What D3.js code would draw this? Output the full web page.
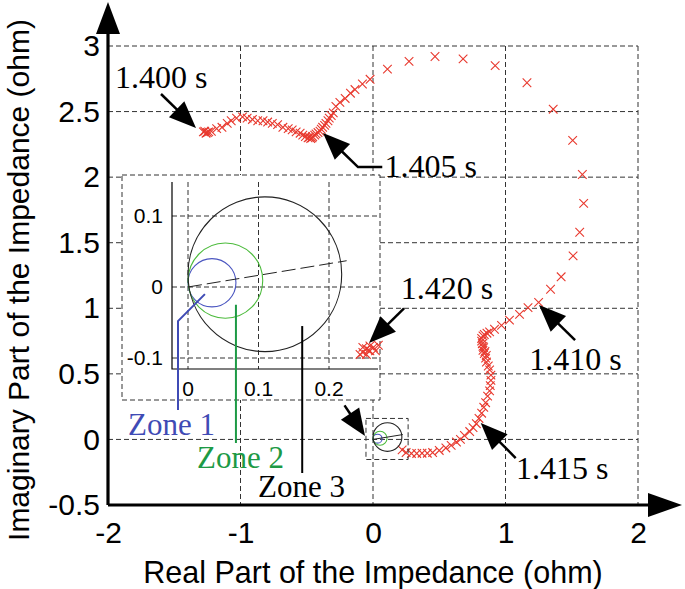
<!DOCTYPE html>
<html><head><meta charset="utf-8">
<script src="https://cdn.jsdelivr.net/npm/d3@7/dist/d3.min.js"></script>
<style>body{margin:0;background:#fff}</style>
</head><body>
<script>
// ---------- data ----------
const xTicks = [-2, -1, 0, 1, 2];
const yTicks = [-0.5, 0, 0.5, 1, 1.5, 2, 2.5, 3];
const insetXTicks = [0, 0.1, 0.2];
const insetYTicks = [-0.1, 0, 0.1];

// impedance trajectory (real, imaginary), ohm
const trajRe = [-1.28,-1.26,-1.27,-1.25,-1.24,-1.22,-1.18,-1.14,-1.10,-1.07,-1.03,-0.985,-0.95,-0.91,-0.87,-0.83,-0.795,-0.76,-0.72,-0.68,-0.64,-0.61,-0.58,-0.55,-0.53,-0.51,-0.49,-0.47,-0.46,-0.48,-0.455,-0.44,-0.43,-0.415,-0.40,-0.39,-0.38,-0.365,-0.355,-0.34,-0.33,-0.315,-0.30,-0.28,-0.25,-0.21,-0.17,-0.136,-0.08,-0.022,0.109,0.272,0.468,0.68,0.922,1.162,1.36,1.507,1.58,1.59,1.56,1.51,1.42,1.34,1.25,1.17,1.106,1.03,0.97,0.917,0.88,0.86,0.84,0.83,0.82,0.82,0.825,0.83,0.835,0.83,0.845,0.84,0.855,0.85,0.856,0.87,0.88,0.89,0.89,0.885,0.88,0.865,0.85,0.836,0.82,0.80,0.78,0.755,0.73,0.69,0.66,0.63,0.59,0.55,0.50,0.45,0.41,0.37,0.33,0.29,0.25,0.22];
const trajIm = [2.345,2.335,2.35,2.34,2.345,2.35,2.37,2.38,2.41,2.43,2.45,2.46,2.45,2.44,2.43,2.43,2.42,2.41,2.40,2.38,2.37,2.36,2.345,2.335,2.32,2.31,2.30,2.295,2.30,2.305,2.31,2.32,2.33,2.34,2.35,2.365,2.38,2.395,2.41,2.43,2.45,2.47,2.49,2.54,2.57,2.60,2.64,2.668,2.71,2.746,2.824,2.883,2.92,2.902,2.85,2.72,2.518,2.28,2.02,1.80,1.58,1.40,1.24,1.145,1.045,1.005,0.954,0.91,0.87,0.84,0.82,0.81,0.80,0.79,0.77,0.75,0.73,0.71,0.70,0.68,0.67,0.655,0.64,0.62,0.59,0.56,0.53,0.49,0.45,0.41,0.37,0.33,0.28,0.245,0.20,0.16,0.12,0.09,0.06,0.03,0.0,-0.02,-0.045,-0.065,-0.084,-0.10,-0.105,-0.105,-0.107,-0.107,-0.10,-0.08];

// final settled points (shown in the inset)
const finalRe = [0.270,0.263,0.258,0.253,0.248,0.244,0.253,0.258,0.248,0.266,0.256];
const finalIm = [-0.082,-0.085,-0.090,-0.087,-0.092,-0.095,-0.095,-0.083,-0.085,-0.090,-0.089];

// relay zones (mho circles)
const zoneNames = ["Zone 1", "Zone 2", "Zone 3"];
const zoneCRe = [0.034, 0.053, 0.109];
const zoneCIm = [0.006, 0.009, 0.018];
const zoneR = [0.034, 0.053, 0.109];
const zoneStroke = ["#4a55c0", "#4cbb3c", "#222"];
const zoneText = ["#3f4bb5", "#1d9a45", "#000"];
const lineEnd = [0.225, 0.037]; // characteristic line end

const timeLabels = ["1.400 s", "1.405 s", "1.410 s", "1.415 s", "1.420 s"];

// ---------- layout ----------
const W = 685, H = 589;
const svg = d3.select("body").append("svg").attr("width", W).attr("height", H);
const x = d3.scaleLinear().domain([-2, 2]).range([108, 638]);
const y = d3.scaleLinear().domain([-0.5, 3]).range([505, 46]);
const ix = d3.scaleLinear().domain([0, 0.2]).range([188, 329]);
const iy = d3.scaleLinear().domain([-0.1, 0.1]).range([358, 216]);

const SANS = "'Liberation Sans', Arial, sans-serif";
const SERIF = "'Liberation Serif', 'Times New Roman', serif";
const DASH = "5,3";
const RED = "#e8392e";

// main grid
const grid = svg.append("g").attr("stroke", "#333").attr("stroke-width", 1).attr("stroke-dasharray", DASH);
grid.selectAll("line.v").data(xTicks.slice(1)).join("line")
  .attr("x1", d => x(d)).attr("x2", d => x(d)).attr("y1", y(3)).attr("y2", y(-0.5));
grid.selectAll("line.h").data(yTicks.slice(1)).join("line")
  .attr("x1", x(-2)).attr("x2", x(2)).attr("y1", d => y(d)).attr("y2", d => y(d));

const cross = "M-4.3,-4.3L4.3,4.3M-4.3,4.3L4.3,-4.3";
// trajectory
svg.append("g").selectAll("path").data(d3.range(trajRe.length)).join("path")
  .attr("d", cross).attr("transform", i => `translate(${x(trajRe[i])},${y(trajIm[i])})`)
  .attr("stroke", RED).attr("stroke-width", 1.1).attr("fill", "none");

// small zone drawing near origin (main scale)
const smallBox = svg.append("g");
smallBox.append("rect").attr("x", x(-0.053)).attr("y", y(0.16))
  .attr("width", x(0.265) - x(-0.053)).attr("height", y(-0.153) - y(0.16))
  .attr("fill", "none").attr("stroke", "#333").attr("stroke-dasharray", DASH);
zoneR.forEach((r, i) => {
  smallBox.append("ellipse").attr("cx", x(zoneCRe[i])).attr("cy", y(zoneCIm[i]))
    .attr("rx", x(r) - x(0)).attr("ry", y(0) - y(r))
    .attr("fill", "none").attr("stroke", zoneStroke[i]).attr("stroke-width", 1.1);
});
smallBox.append("line").attr("x1", x(0)).attr("y1", y(0)).attr("x2", x(lineEnd[0])).attr("y2", y(lineEnd[1]))
  .attr("stroke", "#222").attr("stroke-width", 1);

// ---------- inset ----------
const inset = svg.append("g");
inset.append("rect").attr("x", 122).attr("y", 175).attr("width", 258).attr("height", 225)
  .attr("fill", "#fff").attr("stroke", "#333").attr("stroke-dasharray", DASH);
const ig = inset.append("g").attr("stroke", "#333").attr("stroke-dasharray", DASH);
const ixMin = ix.invert(172), ixMax = ix.invert(378), iyMin = iy.invert(369), iyMax = iy.invert(182);
ig.selectAll("line.v").data(insetXTicks).join("line")
  .attr("x1", d => ix(d)).attr("x2", d => ix(d)).attr("y1", iy(iyMax)).attr("y2", iy(iyMin));
ig.selectAll("line.h").data(insetYTicks).join("line")
  .attr("x1", ix(ixMin)).attr("x2", ix(ixMax)).attr("y1", d => iy(d)).attr("y2", d => iy(d));
inset.append("path").attr("d", `M${ix(ixMin)},${iy(iyMax)}V${iy(iyMin)}H${ix(ixMax)}`)
  .attr("fill", "none").attr("stroke", "#000").attr("stroke-width", 1.2);
zoneR.forEach((r, i) => {
  inset.append("ellipse").attr("cx", ix(zoneCRe[i])).attr("cy", iy(zoneCIm[i]))
    .attr("rx", ix(r) - ix(0)).attr("ry", iy(0) - iy(r))
    .attr("fill", "none").attr("stroke", zoneStroke[i]).attr("stroke-width", 1.1);
});
inset.append("line").attr("x1", ix(0)).attr("y1", iy(0)).attr("x2", ix(lineEnd[0])).attr("y2", iy(lineEnd[1]))
  .attr("stroke", "#222").attr("stroke-width", 1).attr("stroke-dasharray", "14,5");
inset.append("g").selectAll("path").data(d3.range(finalRe.length)).join("path")
  .attr("d", cross).attr("transform", i => `translate(${ix(finalRe[i])},${iy(finalIm[i])})`)
  .attr("stroke", RED).attr("stroke-width", 1.1).attr("fill", "none");
inset.selectAll("text.iy").data(insetYTicks).join("text")
  .attr("x", 163).attr("y", d => iy(d)).attr("dy", "0.35em").attr("text-anchor", "end")
  .attr("font-family", SANS).attr("font-size", 21).text(d => String(d));
inset.selectAll("text.ix").data(insetXTicks).join("text")
  .attr("x", d => ix(d)).attr("y", 389).attr("dy", "0.35em").attr("text-anchor", "middle")
  .attr("font-family", SANS).attr("font-size", 21).text(d => String(d));

// zone leader lines + labels
const leaders = [
  {pts: [[ix(0.024), iy(-0.01)], [178, iy(-0.048)], [178, 410]], tx: 128, ty: 435},
  {pts: [[ix(0.068), iy(-0.025)], [ix(0.068), 443]], tx: 197, ty: 468},
  {pts: [[ix(0.162), iy(-0.055)], [ix(0.162), 473]], tx: 258, ty: 497}
];
leaders.forEach((l, i) => {
  svg.append("path").attr("d", d3.line()(l.pts)).attr("fill", "none")
    .attr("stroke", i === 2 ? "#000" : zoneText[i]).attr("stroke-width", 2);
  svg.append("text").attr("x", l.tx).attr("y", l.ty).attr("font-family", SERIF)
    .attr("font-size", 31).attr("fill", zoneText[i]).text(zoneNames[i]);
});

// ---------- annotations ----------
function arrow(pts) {
  const n = pts.length, tip = pts[n - 1], prev = pts[n - 2];
  const dx = tip[0] - prev[0], dy = tip[1] - prev[1], L = Math.hypot(dx, dy);
  const ux = dx / L, uy = dy / L, hl = 27, hw = 11;
  const bx = tip[0] - ux * hl, by = tip[1] - uy * hl;
  const line = pts.slice(0, n - 1).concat([[bx + ux * 2, by + uy * 2]]);
  svg.append("path").attr("d", d3.line()(line)).attr("fill", "none").attr("stroke", "#000").attr("stroke-width", 2.5);
  svg.append("path").attr("d", `M${tip[0]},${tip[1]}L${bx - uy * hw},${by + ux * hw}L${bx + uy * hw},${by - ux * hw}Z`).attr("fill", "#000");
}
const P = (a, b) => [x(a), y(b)];
const ann = [
  {pts: [P(-1.60, 2.634), P(-1.336, 2.374)], tx: -1.947, ty: 2.68},
  {pts: [P(0.07, 2.077), P(-0.113, 2.077), P(-0.377, 2.336)], tx: 0.087, ty: 2.0},
  {pts: [P(1.525, 0.758), P(1.253, 1.025)], tx: 1.18, ty: 0.53},
  {pts: [P(1.077, -0.142), P(0.813, 0.125)], tx: 1.08, ty: -0.30},
  {pts: [P(0.234, 1.0), P(-0.03, 0.735)], tx: 0.21, ty: 1.07}
];
ann.forEach((a, i) => {
  arrow(a.pts);
  svg.append("text").attr("x", x(a.tx)).attr("y", y(a.ty)).attr("font-family", SERIF)
    .attr("font-size", 32).attr("fill", "#000").text(timeLabels[i]);
});
arrow([P(-0.215, 0.26), P(-0.06, 0.026)]);

// ---------- axes ----------
const ax = svg.append("g");
ax.append("line").attr("x1", x(-2)).attr("x2", 650).attr("y1", y(-0.5)).attr("y2", y(-0.5)).attr("stroke", "#000").attr("stroke-width", 3.2);
ax.append("line").attr("x1", x(-2)).attr("x2", x(-2)).attr("y1", y(-0.5)).attr("y2", 30).attr("stroke", "#000").attr("stroke-width", 3.2);
ax.append("path").attr("d", `M${x(-2)},2L${x(-2) - 12},34L${x(-2) + 12},34Z`).attr("fill", "#000");
ax.append("path").attr("d", `M682,${y(-0.5)}L648,${y(-0.5) - 12}L648,${y(-0.5) + 12}Z`).attr("fill", "#000");

const xa = svg.append("g").attr("transform", `translate(0,${y(-0.5)})`)
  .call(d3.axisBottom(x).tickValues(xTicks).tickSize(0).tickPadding(17).tickFormat(d => String(d)));
xa.select(".domain").remove();
xa.selectAll("text").attr("font-family", SANS).attr("font-size", 30).attr("fill", "#000");
const ya = svg.append("g").attr("transform", `translate(${x(-2)},0)`)
  .call(d3.axisLeft(y).tickValues(yTicks).tickSize(0).tickPadding(8).tickFormat(d => String(d)));
ya.select(".domain").remove();
ya.selectAll("text").attr("font-family", SANS).attr("font-size", 30).attr("fill", "#000");

svg.append("text").attr("x", 373).attr("y", 583).attr("text-anchor", "middle")
  .attr("font-family", SANS).attr("font-size", 30.5).text("Real Part of the Impedance (ohm)");
svg.append("text").attr("transform", "translate(29,280) rotate(-90)").attr("text-anchor", "middle")
  .attr("font-family", SANS).attr("font-size", 30).text("Imaginary Part of the Impedance (ohm)");
</script>
</body></html>
